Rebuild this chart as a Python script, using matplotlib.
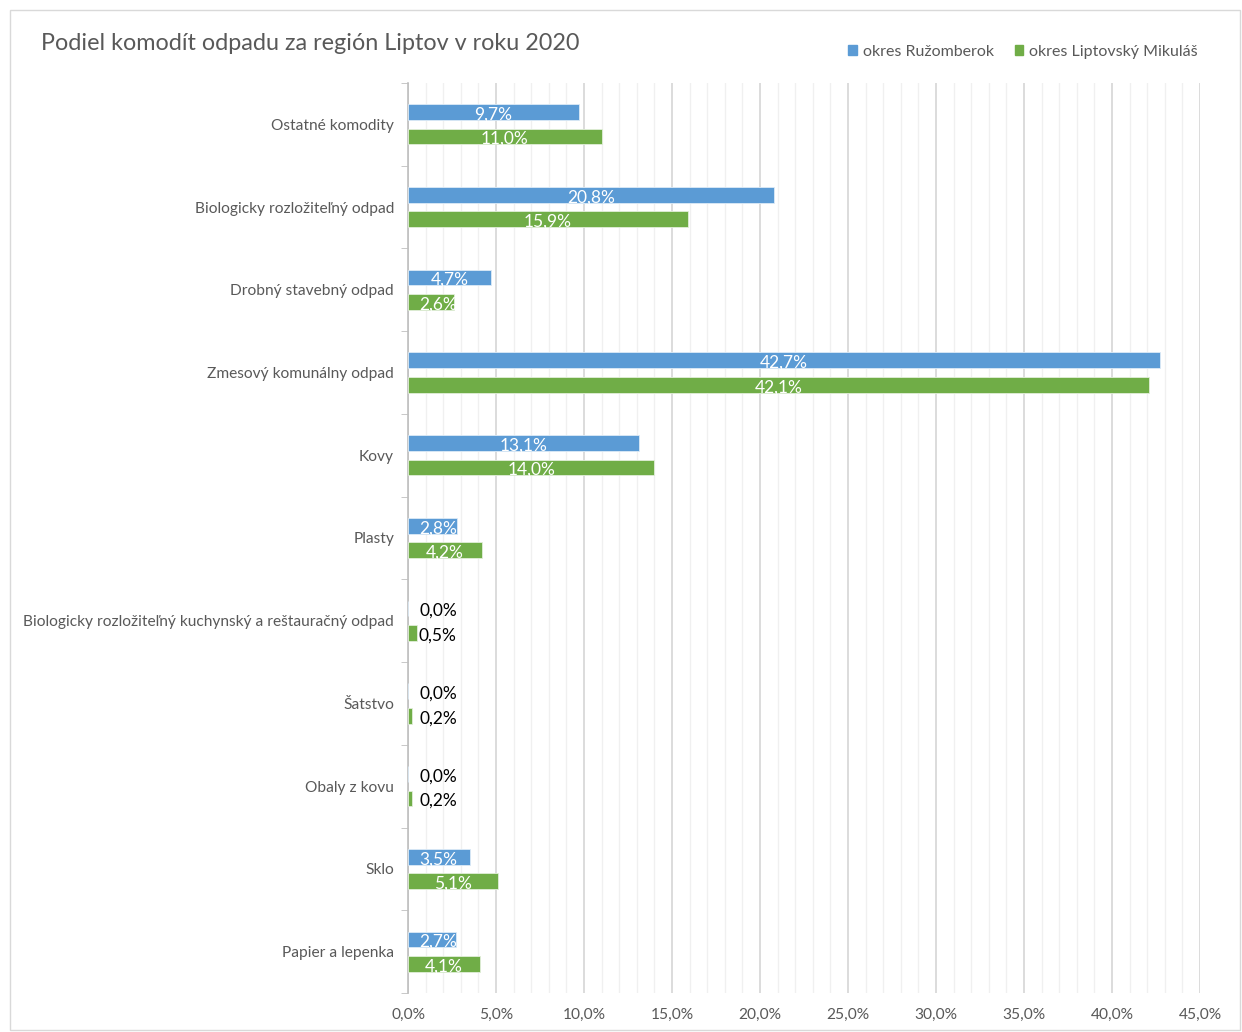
import matplotlib
matplotlib.use("Agg")
import matplotlib.pyplot as plt
from matplotlib.patches import Rectangle
from matplotlib.ticker import MultipleLocator, FuncFormatter
import numpy as np

plt.rcParams['font.family'] = ['Lato', 'DejaVu Sans']

categories = ["Ostatné komodity", "Biologicky rozložiteľný odpad", "Drobný stavebný odpad",
              "Zmesový komunálny odpad", "Kovy", "Plasty",
              "Biologicky rozložiteľný kuchynský a reštauračný odpad", "Šatstvo",
              "Obaly z kovu", "Sklo", "Papier a lepenka"]
ruzomberok = [9.7, 20.8, 4.7, 42.7, 13.1, 2.8, 0.0, 0.0, 0.0, 3.5, 2.7]
mikulas = [11.0, 15.9, 2.6, 42.1, 14.0, 4.2, 0.5, 0.2, 0.2, 5.1, 4.1]
series_names = ["okres Ružomberok", "okres Liptovský Mikuláš"]

blue = "#5B9BD5"
green = "#70AD47"
gray_text = "#595959"

W, H = 1242, 1032
fig = plt.figure(figsize=(W / 100, H / 100), dpi=100)
fig.patches.append(Rectangle((10 / W, 2 / H), 1230 / W, 1020 / H, transform=fig.transFigure,
                             fill=False, edgecolor="#D9D9D9", linewidth=1))

# plot area in pixels: x 408..1200, y 83..993
ax = fig.add_axes([408 / W, 1 - 993 / H, 792 / W, 910 / H])

n = len(categories)
y = np.arange(n)
h = 0.19
off = 0.148
ax.barh(y - off, ruzomberok, height=h, color=blue, edgecolor="#DDEBF7", linewidth=0.6, zorder=3)
ax.barh(y + off, mikulas, height=h, color=green, edgecolor="#E2EFDA", linewidth=0.6, zorder=3)

for vals, dy in [(ruzomberok, -off), (mikulas, off)]:
    for i, v in enumerate(vals):
        xc = max(v / 2, 1.7)
        col = "white" if v >= 1 else "black"
        ax.text(xc, i + dy + 0.03, f"{v:.1f}%".replace(".", ","), ha="center", va="center",
                fontsize=12.5, color=col, zorder=4)

ax.set_xlim(0, 45)
ax.set_ylim(n - 0.5, -0.5)
ax.xaxis.set_major_locator(MultipleLocator(5))
ax.xaxis.set_minor_locator(MultipleLocator(1))
ax.xaxis.set_major_formatter(FuncFormatter(lambda v, p: f"{v:.1f}%".replace(".", ",")))
ax.grid(axis="x", which="major", color="#D9D9D9", linewidth=1.3, zorder=0)
ax.grid(axis="x", which="minor", color="#F0F0F0", linewidth=1.0, zorder=0)
ax.set_axisbelow(True)

ax.set_yticks(y)
ax.set_yticklabels(categories)
ax.set_yticks(np.arange(n + 1) - 0.5, minor=True)
ax.tick_params(axis="y", which="major", length=0, pad=10, labelsize=11.2, labelcolor=gray_text)
ax.tick_params(axis="y", which="minor", length=5, color="#BFBFBF", direction="out")
ax.tick_params(axis="x", which="both", length=0, pad=11, labelsize=11.2, labelcolor=gray_text)

for s in ["top", "right", "bottom"]:
    ax.spines[s].set_visible(False)
ax.spines["left"].set_color("#BFBFBF")
ax.spines["left"].set_linewidth(1.2)

fig.text(41 / W, 1 - 43 / H, "Podiel komodít odpadu za región Liptov v roku 2020",
         fontsize=16.8, color=gray_text, va="center", ha="left")

handles = [Rectangle((0, 0), 1, 1, color=blue), Rectangle((0, 0), 1, 1, color=green)]
fig.legend(handles, series_names, loc="center right", bbox_to_anchor=(1212 / W, 1 - 52 / H),
           ncol=2, frameon=False, fontsize=11.5, labelcolor=gray_text, handlelength=0.55,
           handleheight=0.6, handletextpad=0.35, columnspacing=1.3)

fig.savefig("out.png", dpi=100, facecolor="white")
